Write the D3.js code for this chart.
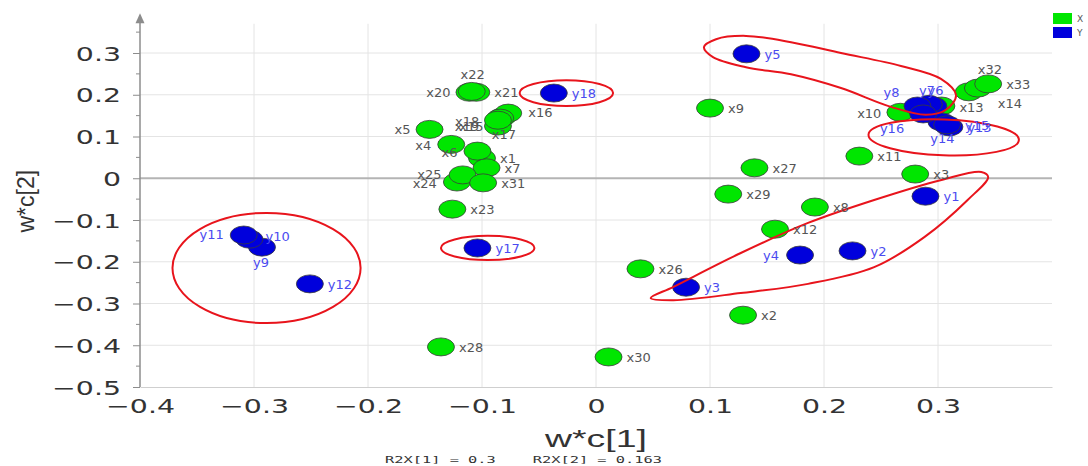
<!DOCTYPE html>
<html>
<head>
<meta charset="utf-8">
<script src="https://d3js.org/d3.v7.min.js"></script>
<style>
body { margin: 0; background: #fff; }
svg { display: block; }
.tick text { font-family: "DejaVu Sans", sans-serif; fill: #333; }
.lbl { font-family: "DejaVu Sans", sans-serif; font-size: 13px; }
.note { white-space: pre; }
</style>
</head>
<body>
<div id="container"></div>
<script>
//------------------------ DATA -------------------------//
var xNames = ["x1","x2","x3","x4","x5","x6","x7","x8","x9","x10","x11","x12","x13","x14","x15","x16","x17",
              "x18","x19","x20","x21","x22","x23","x24","x25","x26","x27","x28","x29","x30","x31","x32","x33"];
var xC1 = [-0.100, 0.129, 0.280, -0.127, -0.146, -0.104, -0.096, 0.192, 0.100, 0.267, 0.231, 0.157, 0.303, 0.327,
           -0.082, -0.077, -0.086, -0.084, -0.086, -0.111, -0.105, -0.109, -0.126, -0.122, -0.117, 0.039, 0.139,
           -0.136, 0.116, 0.011, -0.099, 0.335, 0.344];
var xC2 = [0.048, -0.328, 0.010, 0.081, 0.117, 0.065, 0.025, -0.069, 0.168, 0.158, 0.053, -0.122, 0.173, 0.207,
           0.147, 0.156, 0.125, 0.144, 0.139, 0.206, 0.206, 0.208, -0.074, -0.009, 0.008, -0.217, 0.025,
           -0.404, -0.038, -0.428, -0.011, 0.216, 0.226];

var yNames = ["y1","y2","y3","y4","y5","y6","y7","y8","y9","y10","y11","y12","y13","y14","y15","y16","y17","y18"];
var yC1 = [0.289, 0.225, 0.079, 0.179, 0.132, 0.296, 0.292, 0.282, -0.293, -0.304, -0.309, -0.251,
           0.310, 0.303, 0.308, 0.287, -0.104, -0.037];
var yC2 = [-0.043, -0.174, -0.261, -0.184, 0.298, 0.173, 0.177, 0.173, -0.165, -0.146, -0.136, -0.253,
           0.123, 0.135, 0.128, 0.154, -0.167, 0.204];

var xTicks = [-0.4, -0.3, -0.2, -0.1, 0, 0.1, 0.2, 0.3];
var yTicks = [-0.5, -0.4, -0.3, -0.2, -0.1, 0, 0.1, 0.2, 0.3];

// red hand drawn loops (data coords)
var loopY5 = [[0.0947,0.314],[0.1053,0.333],[0.1316,0.341],[0.1711,0.326],[0.2149,0.300],[0.2675,0.269],
              [0.3026,0.238],[0.3158,0.199],[0.307,0.164],[0.2895,0.152],[0.2588,0.171],[0.2149,0.216],
              [0.1711,0.249],[0.1316,0.266],[0.1026,0.290]];
var loopY1 = [[0.048,-0.287],[0.068,-0.292],[0.127,-0.275],[0.186,-0.253],[0.244,-0.213],[0.288,-0.141],
              [0.326,-0.052],[0.344,0.003],[0.338,0.015],[0.303,-0.004],[0.244,-0.052],[0.186,-0.107],
              [0.127,-0.179],[0.068,-0.260]];
// ellipses: centre c1, c2, radius in c1 units, radius in c2 units
var rings = [
  {c1: 0.305, c2: 0.098, r1: 0.066, r2: 0.043, rot: 2},
  {c1: -0.026, c2: 0.204, r1: 0.041, r2: 0.031, rot: 0},
  {c1: -0.095, c2: -0.167, r1: 0.041, r2: 0.029, rot: 0},
  {c1: -0.289, c2: -0.215, r1: 0.0825, r2: 0.132, rot: 0}
];

// label placement [dx, dy, anchor], default right of point
var labelAt = {
  x4: [-20, 6, "end"], x5: [-19, 5, "end"], x6: [-20, 6, "end"], x20: [-19, 5, "end"],
  x22: [1, -12, "middle"], x18: [-21, 8, "end"], x15: [-19, 14, "end"], x19: [-19, 11, "end"],
  x16: [20, 4, "start"], x17: [6, 13, "middle"],
  x24: [-20, 6, "end"], x25: [-21, 4, "end"], x10: [-19, 6, "end"], x32: [12, -14, "middle"],
  x14: [29, 16, "start"], x13: [18, 6, "start"],
  y4: [-21, 5, "end"], y9: [-1, 20, "middle"], y11: [-20, 4, "end"], y10: [16, 2, "start"],
  y8: [-18, -9, "end"], y7: [-2, -9, "middle"], y6: [2, -11, "middle"], y16: [-19, 19, "end"],
  y14: [1, 21, "middle"]
};

//------------------------ SVG -------------------------//
var W = 1088, H = 466;
var svg = d3.select("#container").append("svg").attr("width", W).attr("height", H);

var x = d3.scaleLinear().domain([-0.4, 0.4]).range([140, 1052]);
var y = d3.scaleLinear().domain([-0.5, 0.3]).range([387, 53]);
var yTop = 0.395;

// grid
svg.append("g").selectAll("line").data(xTicks.slice(1)).enter().append("line")
  .attr("x1", d => x(d)).attr("x2", d => x(d))
  .attr("y1", y(0.37)).attr("y2", y(-0.5))
  .attr("stroke", "#e4e4e4").attr("stroke-width", 1);
svg.append("g").selectAll("line").data(yTicks.slice(1)).enter().append("line")
  .attr("x1", x(-0.4)).attr("x2", x(0.4))
  .attr("y1", d => y(d)).attr("y2", d => y(d))
  .attr("stroke", d => d === 0 ? "#b4b4b4" : "#e4e4e4")
  .attr("stroke-width", d => d === 0 ? 2 : 1);

// x axis
var xAxis = d3.axisBottom(x).tickValues(xTicks).tickSize(0).tickPadding(12)
  .tickFormat(d => d === 0 ? "0" : d3.format(".1f")(d).replace("-", "\u2212"));
var gx = svg.append("g").attr("transform", "translate(0," + y(-0.5) + ")").call(xAxis);
gx.select(".domain").attr("stroke", "#cfcfcf");
gx.selectAll("text").attr("font-size", 20).attr("transform", "scale(1.42,1)").attr("x", 0);

// y axis
var yAxis = d3.axisLeft(y).tickValues(yTicks).tickSize(7).tickPadding(13)
  .tickFormat(d => d === 0 ? "0" : d3.format(".1f")(d).replace("-", "\u2212"));
var gy = svg.append("g").attr("transform", "translate(" + x(-0.4) + ",0)").call(yAxis);
gy.select(".domain").remove();
gy.selectAll(".tick line").attr("stroke", "#8c8c8c");
gy.selectAll("text").attr("font-size", 20).attr("dy", "0.36em")
  .attr("transform", "scale(1.42,1)").attr("x", -19 / 1.42);
// minor ticks
var minor = d3.range(-0.45, 0.36, 0.1);
gy.append("g").selectAll("line").data(minor).enter().append("line")
  .attr("x1", -4).attr("x2", 0).attr("y1", d => y(d)).attr("y2", d => y(d))
  .attr("stroke", "#8c8c8c");
gy.append("line").attr("x1", 0).attr("x2", 0).attr("y1", y(-0.5)).attr("y2", y(yTop) + 8)
  .attr("stroke", "#8c8c8c").attr("stroke-width", 1.5);
gy.append("path")
  .attr("d", "M0," + y(yTop) + "L-4.5," + (y(yTop) + 10) + "L4.5," + (y(yTop) + 10) + "Z")
  .attr("fill", "#8c8c8c");

// titles
svg.append("text").attr("x", x(0)).attr("y", 447).attr("text-anchor", "middle")
  .attr("font-family", "Liberation Sans, sans-serif").attr("font-size", 23).attr("fill", "#333")
  .attr("textLength", 102).attr("lengthAdjust", "spacingAndGlyphs").text("w*c[1]");
svg.append("text").attr("transform", "translate(34," + y(-0.055) + ") rotate(-90)")
  .attr("text-anchor", "middle").attr("font-family", "Liberation Sans, sans-serif")
  .attr("font-size", 23).attr("fill", "#333").text("w*c[2]");
svg.append("text").attr("class", "note").attr("x", 385).attr("y", 463)
  .attr("font-family", "DejaVu Sans Mono, monospace").attr("font-size", 8.5).attr("fill", "#333")
  .attr("textLength", 277).attr("lengthAdjust", "spacingAndGlyphs")
  .text("R2X[1] = 0.3    R2X[2] = 0.163");

// points
var xPts = xNames.map((n, i) => ({name: n, c1: xC1[i], c2: xC2[i], grp: "X"}));
var yPts = yNames.map((n, i) => ({name: n, c1: yC1[i], c2: yC2[i], grp: "Y"}));
var colors = {X: "#00e600", Y: "#0000dc"};

[xPts, yPts].forEach(function(pts) {
  svg.append("g").selectAll("ellipse").data(pts).enter().append("ellipse")
    .attr("cx", d => x(d.c1)).attr("cy", d => y(d.c2))
    .attr("rx", 13.5).attr("ry", 9)
    .attr("fill", d => colors[d.grp])
    .attr("stroke", "#3a3a3a").attr("stroke-width", 0.8);
});

// red loops
var loopLine = d3.line().x(d => x(d[0])).y(d => y(d[1])).curve(d3.curveCatmullRomClosed.alpha(0.5));
svg.append("g").selectAll("path").data([loopY5, loopY1]).enter().append("path")
  .attr("d", loopLine).attr("fill", "none").attr("stroke", "#e8141c").attr("stroke-width", 2);
svg.append("g").selectAll("ellipse").data(rings).enter().append("ellipse")
  .attr("cx", d => x(d.c1)).attr("cy", d => y(d.c2))
  .attr("rx", d => x(d.r1) - x(0)).attr("ry", d => y(0) - y(d.r2))
  .attr("transform", d => "rotate(" + d.rot + "," + x(d.c1) + "," + y(d.c2) + ")")
  .attr("fill", "none").attr("stroke", "#e8141c").attr("stroke-width", 2);

// labels
svg.append("g").selectAll("text").data(xPts.concat(yPts)).enter().append("text")
  .attr("class", "lbl")
  .attr("x", d => x(d.c1) + (labelAt[d.name] || [18])[0])
  .attr("y", d => y(d.c2) + (labelAt[d.name] || [18, 5])[1])
  .attr("text-anchor", d => (labelAt[d.name] || [0, 0, "start"])[2])
  .attr("fill", d => d.grp === "X" ? "#555" : "#4b4bf0")
  .text(d => d.name);

// legend
var leg = svg.append("g").attr("transform", "translate(1053,13)");
["X", "Y"].forEach(function(k, i) {
  leg.append("rect").attr("x", 0).attr("y", i * 14).attr("width", 19).attr("height", 11)
    .attr("fill", colors[k]);
  leg.append("text").attr("x", 24).attr("y", i * 14 + 9).attr("font-size", 9)
    .attr("font-family", "DejaVu Sans, sans-serif").attr("fill", "#555").text(k);
});
</script>
</body>
</html>
